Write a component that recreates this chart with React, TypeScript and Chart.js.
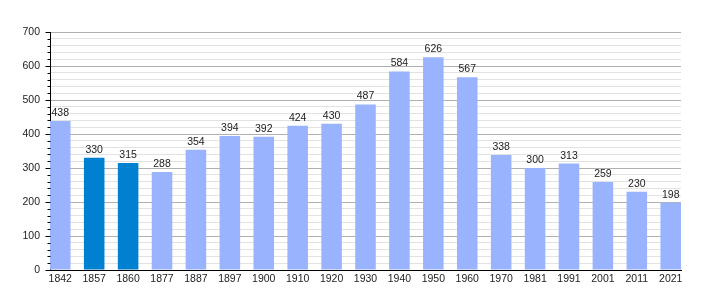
import React, { useEffect, useRef } from "react";
import { Chart, registerables } from "chart.js";

Chart.register(...registerables);

const years = ["1842", "1857", "1860", "1877", "1887", "1897", "1900", "1910", "1920", "1930", "1940", "1950", "1960", "1970", "1981", "1991", "2001", "2011", "2021"];
const population = [438, 330, 315, 288, 354, 394, 392, 424, 430, 487, 584, 626, 567, 338, 300, 313, 259, 230, 198];
const highlighted = ["1857", "1860"];
const yTickValues = [0, 100, 200, 300, 400, 500, 600, 700];

const LIGHT = "#99b3ff";
const DARK = "#0080d0";
const FONT = "'Liberation Sans', Arial, sans-serif";

const valueLabels = {
  id: "valueLabels",
  afterDatasetsDraw(chart: any) {
    const ctx = chart.ctx;
    const meta = chart.getDatasetMeta(0);
    ctx.save();
    ctx.font = `10.5px ${FONT}`;
    ctx.fillStyle = "#222";
    ctx.textAlign = "center";
    ctx.textBaseline = "alphabetic";
    meta.data.forEach((el: any, i: number) => {
      ctx.fillText(String(population[i]), el.x, el.y - 5);
    });
    ctx.restore();
  },
};

const yTickMarks = {
  id: "yTickMarks",
  afterDraw(chart: any) {
    const ctx = chart.ctx;
    const y = chart.scales.y;
    const x0 = Math.round(chart.chartArea.left) + 0.5;
    ctx.save();
    ctx.strokeStyle = "#000";
    ctx.lineWidth = 1;
    y.ticks.forEach((t: any) => {
      const py = Math.round(y.getPixelForValue(t.value)) + 0.5;
      const len = t.value % 100 === 0 ? 5 : 3;
      ctx.beginPath();
      ctx.moveTo(x0 - len, py);
      ctx.lineTo(x0, py);
      ctx.stroke();
    });
    ctx.restore();
  },
};

export default function App() {
  const ref = useRef<HTMLCanvasElement | null>(null);
  useEffect(() => {
    document.body.style.margin = "0";
    const chart = new Chart(ref.current as HTMLCanvasElement, {
      type: "bar",
      data: {
        datasets: [
          {
            data: years.map((_, i) => ({ x: i, y: population[i] })),
            backgroundColor: years.map((yr) => (highlighted.includes(yr) ? DARK : LIGHT)),
            categoryPercentage: 1,
            barPercentage: 0.606,
          },
        ],
      },
      options: {
        animation: false,
        responsive: false,
        maintainAspectRatio: false,
        layout: { padding: { top: 32, right: 29, bottom: 0, left: 0 } },
        plugins: { legend: { display: false }, tooltip: { enabled: false } },
        scales: {
          x: {
            type: "linear",
            offset: false,
            min: -0.303,
            max: 18.303,
            afterBuildTicks: (scale: any) => {
              scale.ticks = years.map((_, i) => ({ value: i }));
            },
            afterFit: (scale: any) => {
              scale.height = 30;
            },
            grid: { display: false, drawTicks: false, offset: false },
            border: { display: true, color: "#000", width: 1 },
            ticks: {
              autoSkip: false,
              maxRotation: 0,
              padding: 3,
              color: "#222",
              font: { size: 10.5, family: FONT },
              callback: (v: any) => years[v as number] ?? "",
            },
          },
          y: {
            min: 0,
            max: 700,
            afterFit: (scale: any) => {
              scale.width = 50;
            },
            grid: {
              drawTicks: false,
              color: (c: any) => (c.tick && yTickValues.includes(c.tick.value) ? "#b0b0b0" : "#e2e2e2"),
            },
            border: { display: true, color: "#000", width: 1 },
            ticks: {
              stepSize: 20,
              padding: 10,
              autoSkip: false,
              color: "#222",
              font: { size: 10.5, family: FONT },
              callback: (v: any) => (yTickValues.includes(v as number) ? String(v) : ""),
            },
          },
        },
      },
      plugins: [valueLabels, yTickMarks],
    });
    return () => chart.destroy();
  }, []);
  return (
    <div style={{ width: 710, height: 300 }}>
      <canvas ref={ref} width={710} height={300} style={{ display: "block" }} />
    </div>
  );
}
